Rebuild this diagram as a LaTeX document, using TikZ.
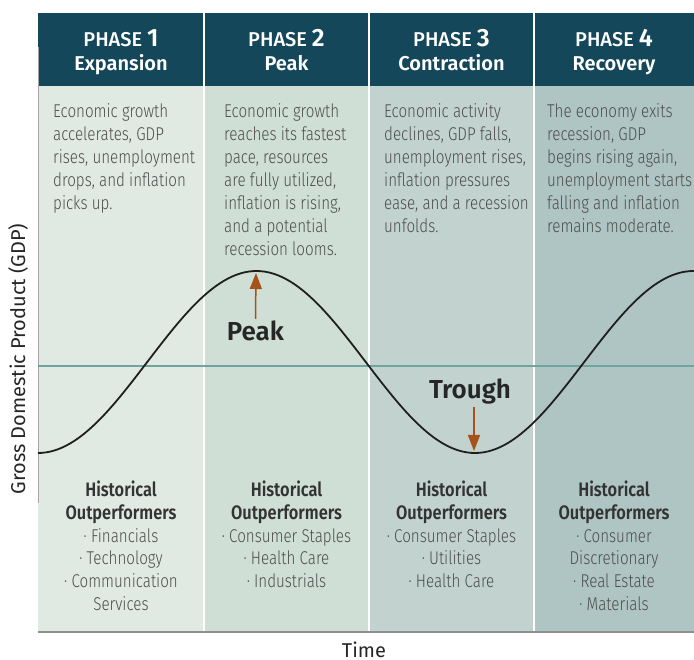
\documentclass[tikz,border=0pt]{standalone}
\usepackage{fontspec}
\usetikzlibrary{arrows.meta}
\setmainfont{Fira Sans}
\newfontfamily\bodyfont{Fira Sans Light}[FakeStretch=0.82]
\newfontfamily\strongfont{Fira Sans SemiBold}[FakeStretch=0.84]
\newfontfamily\headfont{Fira Sans Medium}
\newfontfamily\headbold{Fira Sans SemiBold}

\definecolor{headteal}{HTML}{14475A}
\definecolor{phaseA}{HTML}{E0EAE3}
\definecolor{phaseB}{HTML}{CFDFD6}
\definecolor{phaseC}{HTML}{C2D3CF}
\definecolor{phaseD}{HTML}{AFC5C3}
\definecolor{midteal}{HTML}{6FA59C}
\definecolor{tipbrown}{HTML}{A5521B}
\definecolor{textgray}{HTML}{4D4D4D}
\definecolor{axisgray}{HTML}{8F8F8F}

\tikzset{
  phasetop/.style={anchor=base, text=white, inner sep=0pt, font=\headfont\fontsize{20}{22}\selectfont},
  phasename/.style={anchor=base, text=white, inner sep=0pt, font=\headbold\fontsize{20}{22}\selectfont},
  blurb/.style={anchor=north west, align=left, inner sep=0pt, text=textgray,
    font=\bodyfont\fontsize{18.5}{23}\selectfont, execute at begin node=\strut},
  winners/.style={anchor=north, align=center, inner sep=0pt, text=textgray,
    font=\bodyfont\fontsize{18.5}{22.7}\selectfont, execute at begin node=\strut},
  turnlabel/.style={font=\headbold\fontsize{26}{28}\selectfont, text=black!85, inner sep=2pt},
  turntip/.style={tipbrown, line width=1.5pt, -{Triangle[width=12pt,length=16pt]}}
}
\newcommand{\phasenum}[1]{\fontsize{25}{22}\selectfont\headbold #1}
\newcommand{\winfont}{\strongfont\fontsize{19.5}{22.7}\selectfont\color{black!80}}
\newcommand{\winhead}{{\winfont Historical}\\{\winfont Outperformers}}

\begin{document}
\begin{tikzpicture}[x=1pt,y=-1pt]
\useasboundingbox (0,0) rectangle (694,660);

% phase panels
\fill [phaseA] (38,13) rectangle (204,632);
\fill [phaseB] (204,13) rectangle (369,632);
\fill [phaseC] (369,13) rectangle (534,632);
\fill [phaseD] (534,13) rectangle (694,632);
\fill [headteal] (38,13) rectangle (694,86);
\draw [white, line width=2pt] (204,13) -- (204,632);
\draw [white, line width=2pt] (369,13) -- (369,632);
\draw [white, line width=2pt] (534,13) -- (534,632);

% axes and trend line
\draw [axisgray!80, line width=1.5pt] (38.5,47) -- (38.5,503);
\draw [axisgray, line width=1.6pt] (38,632) -- (694,632);
\draw [midteal, line width=1.5pt] (38,366) -- (694,366);
\draw [black!88, line width=1.8pt] plot [domain=38:694, samples=160] (\x, {362+91*cos(0.8238*(\x-38))});

% headers
\node [phasetop] (top1) at (121,47) {PHASE \phasenum{1}};
\node [phasename] (name1) at (121,71) {Expansion};
\node [phasetop] (top2) at (286.5,47) {PHASE \phasenum{2}};
\node [phasename] (name2) at (286.5,71) {Peak};
\node [phasetop] (top3) at (451.5,47) {PHASE \phasenum{3}};
\node [phasename] (name3) at (451.5,71) {Contraction};
\node [phasetop] (top4) at (614,47) {PHASE \phasenum{4}};
\node [phasename] (name4) at (614,71) {Recovery};

% descriptions
\node [blurb] (text1) at (53,103) {Economic growth\\accelerates, GDP\\rises, unemployment\\drops, and inflation\\picks up.};
\node [blurb] (text2) at (224,103) {Economic growth\\reaches its fastest\\pace, resources\\are fully utilized,\\inflation is rising,\\and a potential\\recession looms.};
\node [blurb] (text3) at (384,103) {Economic activity\\declines, GDP falls,\\unemployment rises,\\inflation pressures\\ease, and a recession\\unfolds.};
\node [blurb] (text4) at (547,103) {The economy exits\\recession, GDP\\begins rising again,\\unemployment starts\\falling and inflation\\remains moderate.};

% sector lists
\node [winners] (sect1) at (121,481) {\winhead\\· Financials\\· Technology\\· Communication\\Services};
\node [winners] (sect2) at (286.5,481) {\winhead\\· Consumer Staples\\· Health Care\\· Industrials};
\node [winners] (sect3) at (451.5,481) {\winhead\\· Consumer Staples\\· Utilities\\· Health Care};
\node [winners] (sect4) at (614,481) {\winhead\\· Consumer\\Discretionary\\· Real Estate\\· Materials};

% turning points
\coordinate (crest) at (256,273);
\coordinate (dip) at (474,451);
\node [turnlabel, anchor=base] (peaklbl) at (255.5,340.7) {Peak};
\node [turnlabel, anchor=base] (troughlbl) at (470,399) {Trough};
\draw [turntip] (peaklbl.north) -- (crest);
\draw [turntip] (troughlbl.south -| dip) -- (dip);

% axis titles
\node [rotate=90, font=\fontsize{20}{22}\selectfont, text=black!85] (ytitle) at (18,359) {Gross Domestic Product (GDP)};
\node [anchor=base, inner sep=0pt, font=\fontsize{20}{22}\selectfont, text=black!85] (xtitle) at (364,657.5) {Time};
\end{tikzpicture}
\end{document}
